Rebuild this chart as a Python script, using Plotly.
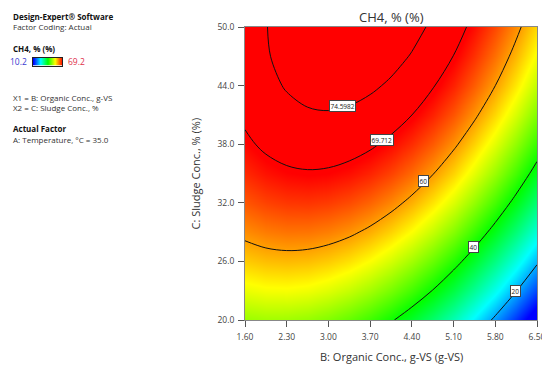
import plotly.graph_objects as go

# ---------------- data ----------------
organic_conc = [1.60, 1.95, 2.30, 2.65, 3.00, 3.35, 3.70, 4.05, 4.40, 4.75, 5.10, 5.45, 5.80, 6.15, 6.50]
sludge_conc = [20, 23, 26, 29, 32, 35, 38, 41, 44, 47, 50]
# CH4 (%) response surface, one row per sludge concentration
ch4 = [
    [48.58, 49.01, 48.91, 48.29, 47.14, 45.46, 43.26, 40.53, 37.27, 33.49, 29.18, 24.34, 18.98, 13.09, 6.67],
    [53.26, 53.88, 53.97, 53.54, 52.57, 51.08, 49.07, 46.52, 43.45, 39.86, 35.73, 31.08, 25.90, 20.20, 13.97],
    [57.43, 58.24, 58.51, 58.27, 57.49, 56.19, 54.36, 52.01, 49.12, 45.71, 41.78, 37.32, 32.33, 26.81, 20.77],
    [61.08, 62.07, 62.54, 62.48, 61.89, 60.78, 59.14, 56.97, 54.28, 51.06, 47.31, 43.04, 38.24, 32.91, 27.05],
    [64.21, 65.40, 66.05, 66.18, 65.78, 64.85, 63.40, 61.42, 58.92, 55.88, 52.32, 48.24, 43.63, 38.49, 32.82],
    [66.83, 68.20, 69.04, 69.36, 69.15, 68.41, 67.15, 65.35, 63.04, 60.19, 56.82, 52.92, 48.50, 43.55, 38.07],
    [68.93, 70.49, 71.52, 72.02, 72.00, 71.45, 70.37, 68.77, 66.64, 63.98, 60.80, 57.09, 52.85, 48.09, 42.80],
    [70.51, 72.25, 73.47, 74.17, 74.33, 73.97, 73.08, 71.67, 69.73, 67.26, 64.26, 60.74, 56.69, 52.12, 47.02],
    [71.57, 73.51, 74.91, 75.79, 76.15, 75.97, 75.27, 74.05, 72.29, 70.01, 67.21, 63.87, 60.01, 55.63, 50.71],
    [72.12, 74.24, 75.84, 76.90, 77.45, 77.46, 76.95, 75.91, 74.35, 72.25, 69.64, 66.49, 62.82, 58.62, 53.89],
    [72.15, 74.46, 76.24, 77.50, 78.23, 78.43, 78.11, 77.26, 75.88, 73.98, 71.55, 68.59, 65.11, 61.09, 56.56],
]
contour_levels = [20, 40, 60, 69.712, 74.5982]
x_tick_values = [1.60, 2.30, 3.00, 3.70, 4.40, 5.10, 5.80, 6.50]
y_tick_values = [20.0, 26.0, 32.0, 38.0, 44.0, 50.0]
ch4_min = 10.2
ch4_max = 69.2

# ---------------- layout geometry / style ----------------
# the page body has an 8px margin, so the figure is drawn 8px in from the window
OFF = 8
W, H = 550 - OFF, 372 - OFF
PLOT_L, PLOT_R, PLOT_T, PLOT_B = 245, 537, 27, 320   # window pixels
FONT = "Open Sans, Noto Sans, sans-serif"


def fx(xp):
    return (xp - OFF) / W


def fy(yp):
    return 1 - (yp - OFF) / H


colorscale = [
    [0.00, "rgb(0,0,255)"],
    [0.25, "rgb(0,255,255)"],
    [0.50, "rgb(0,255,0)"],
    [0.75, "rgb(255,255,0)"],
    [1.00, "rgb(255,0,0)"],
]

fig = go.Figure()

# main colour surface
fig.add_trace(go.Heatmap(
    x=organic_conc, y=sludge_conc, z=ch4,
    zmin=ch4_min, zmax=ch4_max, zsmooth="best",
    colorscale=colorscale, hoverinfo="skip", showscale=False,
))

# contour lines, one trace per level
for lv in contour_levels:
    fig.add_trace(go.Contour(
        x=organic_conc, y=sludge_conc, z=ch4,
        autocontour=False,
        contours=dict(start=lv, end=lv, size=1, coloring="none"),
        line=dict(color="#111", width=1, smoothing=1.0),
        showscale=False, hoverinfo="skip",
    ))

# small legend gradient bar (top-left panel)
fig.add_trace(go.Heatmap(
    x=[0, 1], y=[0], z=[[ch4_min, ch4_max]],
    zmin=ch4_min, zmax=ch4_max, zsmooth="best",
    colorscale=colorscale, showscale=False, hoverinfo="skip",
    xaxis="x2", yaxis="y2",
))

# contour labels (boxed, like Design-Expert)
label_positions = {20: (6.135, 23.0), 40: (5.44, 27.5), 60: (4.60, 34.2),
                   69.712: (3.90, 38.4), 74.5982: (3.24, 41.9)}
annotations = []
for lv in contour_levels:
    lx, ly = label_positions[lv]
    annotations.append(dict(
        x=lx, y=ly, xref="x", yref="y", text=f"{lv:g}", showarrow=False,
        font=dict(family=FONT, size=6.5, color="#222"),
        bgcolor="white", bordercolor="#444", borderwidth=1, borderpad=0.5,
    ))

# left information panel
panel = [
    ("<b>Design-Expert® Software</b>", 11, 16.5, "#111"),
    ("Factor Coding: Actual", 11, 26.5, "#333"),
    ("<b>CH4, % (%)</b>", 11, 48.5, "#111"),
    ("X1 = B: Organic Conc., g-VS", 11, 97.5, "#333"),
    ("X2 = C: Sludge Conc., %", 11, 107.5, "#333"),
    ("<b>Actual Factor</b>", 11, 128.5, "#111"),
    ("A: Temperature, °C = 35.0", 11, 139.5, "#333"),
]
for txt, xp, yp, col in panel:
    annotations.append(dict(
        x=fx(xp), y=fy(yp), xref="paper", yref="paper", text=txt,
        showarrow=False, xanchor="left", yanchor="middle",
        font=dict(family=FONT, size=8, color=col),
    ))
annotations.append(dict(
    x=fx(29), y=fy(61.5), xref="paper", yref="paper", text=f"{ch4_min:.1f}",
    showarrow=False, xanchor="right", yanchor="middle",
    font=dict(family=FONT, size=8.5, color="#3a3ad0"),
))
annotations.append(dict(
    x=fx(66), y=fy(61.5), xref="paper", yref="paper", text=f"{ch4_max:.1f}",
    showarrow=False, xanchor="left", yanchor="middle",
    font=dict(family=FONT, size=8.5, color="#e0304a"),
))
# titles
annotations.append(dict(
    x=fx((PLOT_L + PLOT_R) / 2), y=fy(16.5), xref="paper", yref="paper",
    text="CH4, % (%)", showarrow=False, xanchor="center", yanchor="middle",
    font=dict(family=FONT, size=13, color="#333"),
))
annotations.append(dict(
    x=fx((PLOT_L + PLOT_R) / 2), y=fy(356.5), xref="paper", yref="paper",
    text="B: Organic Conc., g-VS (g-VS)", showarrow=False,
    xanchor="center", yanchor="middle",
    font=dict(family=FONT, size=11, color="#333"),
))
annotations.append(dict(
    x=fx(195), y=fy((PLOT_T + PLOT_B) / 2), xref="paper", yref="paper",
    text="C: Sludge Conc., % (%)", showarrow=False, textangle=-90,
    xanchor="center", yanchor="middle",
    font=dict(family=FONT, size=11, color="#333"),
))

axis_common = dict(
    showgrid=False, zeroline=False, ticks="outside", ticklen=6, tickwidth=1,
    tickcolor="#555", showline=True, linecolor="#888", linewidth=1, mirror=True,
    tickfont=dict(family=FONT, size=8.5, color="#444"),
)

fig.update_layout(
    width=W, height=H,
    margin=dict(l=0, r=0, t=0, b=0, autoexpand=False),
    paper_bgcolor="white", plot_bgcolor="white",
    xaxis=dict(domain=[fx(PLOT_L), fx(PLOT_R)],
               range=[organic_conc[0], organic_conc[-1]], tickvals=x_tick_values,
               tickformat=".2f", ticklabelstandoff=3, **axis_common),
    yaxis=dict(domain=[fy(PLOT_B), fy(PLOT_T)],
               range=[sludge_conc[0], sludge_conc[-1]], tickvals=y_tick_values,
               tickformat=".1f", ticklabelstandoff=2, **axis_common),
    xaxis2=dict(domain=[fx(33), fx(62)], range=[0, 1], anchor="y2",
                showticklabels=False, ticks="", showgrid=False, zeroline=False,
                showline=True, linecolor="#222", linewidth=1, mirror=True),
    yaxis2=dict(domain=[fy(65.5), fy(57.5)], range=[-0.5, 0.5], anchor="x2",
                showticklabels=False, ticks="", showgrid=False, zeroline=False,
                showline=True, linecolor="#222", linewidth=1, mirror=True),
    annotations=annotations,
    showlegend=False,
)

fig.write_html("out.html")
